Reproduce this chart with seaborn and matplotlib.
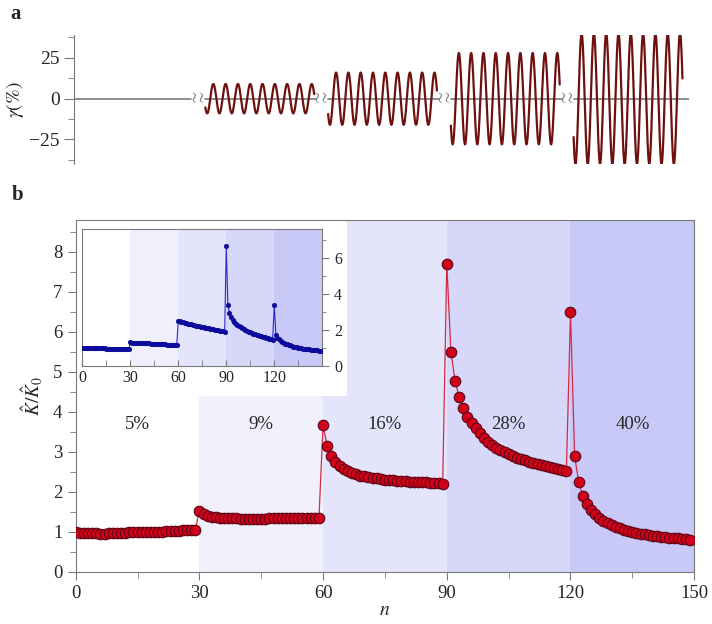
import numpy as np
import seaborn as sns
import matplotlib.pyplot as plt
from matplotlib.patches import Rectangle
from matplotlib.ticker import MultipleLocator

sns.set_style("ticks")
plt.rcParams['font.family'] = ['Liberation Serif', 'DejaVu Serif']
plt.rcParams['mathtext.fontset'] = 'stix'

# panel a: strain amplitude of each oscillatory stage (%)
strain_amp = [9, 16, 28, 40]
n_cycles = 8.85

# panel b: stages
stage_labels = ['5%', '9%', '16%', '28%', '40%']
stage_edges = [0, 30, 60, 90, 120, 150]
stage_colors = ['#ffffff', '#f0f0fd', '#e4e4fb', '#d7d7fa', '#c9c9f7']

# main curve K/K0, one list per stage (30 cycles each)
k_05 = [1.00, 0.97, 0.97, 0.97, 0.96, 0.96, 0.95, 0.95, 0.96, 0.96,
        0.96, 0.97, 0.97, 0.98, 0.98, 0.98, 0.99, 0.99, 0.99, 1.00,
        1.00, 1.00, 1.01, 1.01, 1.02, 1.02, 1.03, 1.04, 1.03, 1.05]
k_09 = [1.52, 1.43, 1.39, 1.37, 1.36, 1.35, 1.34, 1.34, 1.33, 1.33,
        1.32, 1.32, 1.32, 1.32, 1.32, 1.32, 1.32, 1.33, 1.33, 1.33,
        1.33, 1.33, 1.33, 1.34, 1.34, 1.34, 1.35, 1.35, 1.35, 1.35]
k_16 = [3.67, 3.13, 2.89, 2.75, 2.65, 2.57, 2.51, 2.47, 2.43, 2.40,
        2.38, 2.36, 2.34, 2.33, 2.31, 2.30, 2.29, 2.28, 2.27, 2.26,
        2.26, 2.25, 2.24, 2.24, 2.23, 2.23, 2.22, 2.22, 2.21, 2.20]
k_28 = [7.69, 5.50, 4.77, 4.36, 4.08, 3.87, 3.71, 3.58, 3.46, 3.35,
        3.25, 3.17, 3.10, 3.04, 2.98, 2.93, 2.89, 2.85, 2.81, 2.78,
        2.75, 2.72, 2.69, 2.66, 2.64, 2.62, 2.59, 2.57, 2.55, 2.51]
k_40 = [6.48, 2.89, 2.23, 1.89, 1.69, 1.54, 1.43, 1.34, 1.27, 1.21,
        1.16, 1.12, 1.08, 1.05, 1.02, 0.99, 0.97, 0.95, 0.93, 0.91,
        0.90, 0.88, 0.87, 0.86, 0.85, 0.84, 0.83, 0.82, 0.81, 0.80]

# inset curve
ins_05 = [1.02, 1.02, 1.01, 1.01, 1.01, 1.00, 1.00, 1.00, 0.99, 0.99,
          0.99, 0.98, 0.98, 0.98, 0.98, 0.97, 0.97, 0.97, 0.97, 0.96,
          0.96, 0.96, 0.96, 0.95, 0.95, 0.95, 0.95, 0.94, 0.94, 0.93]
ins_09 = [1.31, 1.30, 1.30, 1.29, 1.29, 1.28, 1.28, 1.27, 1.27, 1.26,
          1.26, 1.25, 1.25, 1.24, 1.24, 1.23, 1.23, 1.22, 1.22, 1.21,
          1.21, 1.20, 1.20, 1.19, 1.19, 1.18, 1.17, 1.16, 1.15, 1.14]
ins_16 = [2.51, 2.48, 2.45, 2.42, 2.40, 2.37, 2.35, 2.33, 2.31, 2.29,
          2.27, 2.25, 2.23, 2.21, 2.19, 2.17, 2.15, 2.13, 2.11, 2.09,
          2.07, 2.05, 2.03, 2.02, 2.00, 1.98, 1.97, 1.95, 1.93, 1.91]
ins_28 = [6.68, 3.40, 2.93, 2.71, 2.56, 2.45, 2.36, 2.28, 2.21, 2.15,
          2.09, 2.04, 1.99, 1.95, 1.91, 1.87, 1.83, 1.80, 1.77, 1.74,
          1.71, 1.68, 1.65, 1.63, 1.60, 1.58, 1.55, 1.52, 1.49, 1.45]
ins_40 = [3.40, 1.73, 1.58, 1.48, 1.40, 1.34, 1.29, 1.24, 1.20, 1.17,
          1.14, 1.11, 1.08, 1.06, 1.04, 1.02, 1.00, 0.98, 0.97, 0.95,
          0.94, 0.93, 0.92, 0.91, 0.90, 0.89, 0.88, 0.87, 0.86, 0.85]

k_all = k_05 + k_09 + k_16 + k_28 + k_40
ins_all = ins_05 + ins_09 + ins_16 + ins_28 + ins_40
n = np.arange(len(k_all))

grey = '#7a7a7a'
fig = plt.figure(figsize=(7.12, 6.24), dpi=100)

# ---------------- panel a ----------------
axa = fig.add_axes([0.1044, 0.7372, 0.8638, 0.2067])
seg_start0, seg_step, x_end = 10.65, 9.98, 50.0
axa.plot([0, 9.45], [0, 0], color=grey, lw=1.2)
for i, amp in enumerate(strain_amp):
    x0 = seg_start0 + i * seg_step
    x1 = x_end if i == len(strain_amp) - 1 else x0 + 9.0
    axa.plot([x0, x1], [0, 0], color=grey, lw=1.2, zorder=1)
    t = np.linspace(0, n_cycles, 500)
    sns.lineplot(x=x0 + t, y=amp * np.sin(2 * np.pi * t + 3.77), ax=axa,
                 color='#6e1010', linewidth=1.6, sort=False, zorder=2)
    axa.text(x0 - 0.6, 0, r'$\wr\wr$', ha='center', va='center',
             fontsize=12, color=grey)
axa.set_xlim(0, x_end)
axa.set_ylim(-40, 39)
axa.set_yticks([-25, 0, 25])
axa.yaxis.set_minor_locator(MultipleLocator(12.5))
axa.set_xticks([])
for s in ['top', 'right', 'bottom']:
    axa.spines[s].set_visible(False)
axa.spines['left'].set_color(grey)
axa.tick_params(axis='y', which='major', length=7, color=grey, labelsize=14)
axa.tick_params(axis='y', which='minor', length=4, color=grey)
axa.set_ylabel(r'$\gamma(\%)$', fontsize=14, labelpad=2)
axa.patch.set_alpha(0)

# ---------------- panel b ----------------
ax = fig.add_axes([0.1063, 0.0838, 0.8687, 0.5644])
for lo, hi, c in zip(stage_edges[:-1], stage_edges[1:], stage_colors):
    ax.axvspan(lo, hi, color=c, lw=0, zorder=0)
ax.add_patch(Rectangle((0, 0.499), 0.4387, 0.501, transform=ax.transAxes,
                       facecolor='white', edgecolor='none', zorder=1))
sns.lineplot(x=n, y=k_all, ax=ax, color='#d42a45', linewidth=0.9,
             marker='o', markersize=7.6, markerfacecolor='#d0021b',
             markeredgecolor='#5c0414', markeredgewidth=0.8, zorder=3)
for lo, hi, lab in zip(stage_edges[:-1], stage_edges[1:], stage_labels):
    ax.text((lo + hi) / 2, 3.67, lab, ha='center', va='center', fontsize=13.5)
ax.set_xlim(0, 150)
ax.set_ylim(0, 8.8)
ax.set_xticks(range(0, 151, 30))
ax.xaxis.set_minor_locator(MultipleLocator(15))
ax.set_yticks(range(0, 9))
ax.yaxis.set_minor_locator(MultipleLocator(0.5))
for s in ax.spines.values():
    s.set_color(grey)
ax.tick_params(which='major', length=6, color=grey, labelsize=13.5)
ax.tick_params(which='minor', length=4, color=grey)
ax.set_xlabel(r'$n$', fontsize=14, labelpad=0)
ax.set_ylabel(r'$\hat{K}/\hat{K}_0$', fontsize=14, labelpad=6)

# inset
axi = fig.add_axes([0.1156, 0.4135, 0.337, 0.219])
for lo, hi, c in zip(stage_edges[:-1], stage_edges[1:], stage_colors):
    axi.axvspan(lo, hi, color=c, lw=0, zorder=0)
sns.lineplot(x=n, y=ins_all, ax=axi, color='#2a2ad0', linewidth=0.8,
             marker='o', markersize=3.2, markerfacecolor='#0c0c9c',
             markeredgecolor='#0c0c9c', markeredgewidth=0.5, zorder=3)
axi.set_xlim(0, 150)
axi.set_ylim(0, 7.6)
axi.set_xticks(range(0, 121, 30))
axi.xaxis.set_minor_locator(MultipleLocator(15))
axi.yaxis.tick_right()
axi.set_yticks([0, 2, 4, 6])
axi.yaxis.set_minor_locator(MultipleLocator(1))
for s in axi.spines.values():
    s.set_color(grey)
axi.tick_params(axis='x', which='both', direction='in', length=4,
                color=grey, labelsize=11.5, pad=3)
axi.tick_params(axis='y', which='major', direction='out', length=5,
                color=grey, labelsize=11.5)
axi.tick_params(axis='y', which='minor', direction='out', length=3, color=grey)
axi.set_xlabel('')
axi.set_ylabel('')

fig.text(0.014, 0.978, 'a', fontsize=15, fontweight='bold', va='center')
fig.text(0.016, 0.688, 'b', fontsize=15, fontweight='bold', va='center')

fig.savefig('out.png', dpi=100)
